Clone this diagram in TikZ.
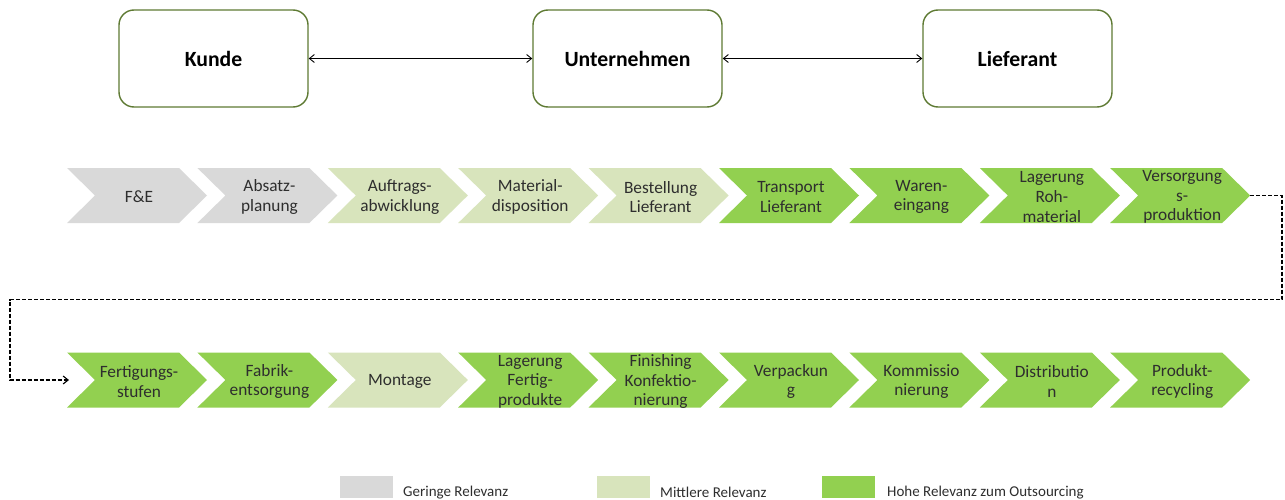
\documentclass[tikz,border=0pt]{standalone}
\usepackage{fontspec}
\setmainfont{Carlito}
\usetikzlibrary{arrows.meta}
\definecolor{lowrel}{HTML}{D9D9D9}
\definecolor{midrel}{HTML}{D8E4BC}
\definecolor{highrel}{HTML}{92D050}
\definecolor{boxline}{HTML}{5E7A33}
\definecolor{txt}{HTML}{2E2E2E}

% one process step: name, left x, centre y, fill colour, label
\newcommand{\procstep}[5]{%
  \fill[#4] (#2,#3-27.5) -- ++(112,0) -- ++(28,27.5) -- ++(-28,27.5)
    -- ++(-112,0) -- ++(28,-27.5) -- cycle;
  \node[steptext] (#1) at (#2+72,#3) {#5};
  \coordinate (#1-tip) at (#2+140,#3);
  \coordinate (#1-tail) at (#2+2,#3);
}

\begin{document}
\begin{tikzpicture}[x=1pt,y=-1pt,
  party/.style={draw=boxline,line width=1.4pt,rounded corners=15pt,
    minimum width=189pt,minimum height=97pt,inner sep=0pt,
    font=\fontsize{21.7}{26}\selectfont\bfseries},
  steptext/.style={align=center,text=txt,inner sep=0pt,yshift=-1.5pt,
    font=\fontsize{17.3}{19.6}\selectfont},
  link/.style={line width=0.9pt,{Straight Barb[length=5pt,width=8pt]}-{Straight Barb[length=5pt,width=8pt]}},
  flow/.style={line width=1.1pt,dash pattern=on 4pt off 2pt,-{Straight Barb[length=5pt,width=8pt]}},
  legbox/.style={minimum width=53pt,minimum height=22pt,inner sep=0pt},
  legtext/.style={anchor=west,text=txt,inner sep=0pt,font=\fontsize{15}{18}\selectfont}]

\useasboundingbox[fill=white] (0,0) rectangle (1285,500);

% actors
\node[party] (kunde) at (213.5,58.5) {Kunde};
\node[party] (untern) at (627.5,58.5) {Unternehmen};
\node[party] (liefer) at (1017.5,58.5) {Lieferant};
\draw[link] (kunde.east) -- (untern.west);
\draw[link] (untern.east) -- (liefer.west);

% first row of process steps
\procstep{s1}{67}{195.5}{lowrel}{F\&E}
\procstep{s2}{197.4}{195.5}{lowrel}{Absatz-\\planung}
\procstep{s3}{327.8}{195.5}{midrel}{Auftrags-\\abwicklung}
\procstep{s4}{458.2}{195.5}{midrel}{Material-\\disposition}
\procstep{s5}{588.6}{195.5}{midrel}{Bestellung\\Lieferant}
\procstep{s6}{719}{195.5}{highrel}{Transport\\Lieferant}
\procstep{s7}{849.4}{195.5}{highrel}{Waren-\\eingang}
\procstep{s8}{979.8}{195.5}{highrel}{Lagerung\\Roh-\\material}
\procstep{s9}{1110.2}{195.5}{highrel}{Versorgung\\s-\\produktion}

% second row of process steps
\procstep{t1}{67}{380}{highrel}{Fertigungs-\\stufen}
\procstep{t2}{197.4}{380}{highrel}{Fabrik-\\entsorgung}
\procstep{t3}{327.8}{380}{midrel}{Montage}
\procstep{t4}{458.2}{380}{highrel}{Lagerung\\Fertig-\\produkte}
\procstep{t5}{588.6}{380}{highrel}{Finishing\\Konfektio-\\nierung}
\procstep{t6}{719}{380}{highrel}{Verpackun\\g}
\procstep{t7}{849.4}{380}{highrel}{Kommissio\\nierung}
\procstep{t8}{979.8}{380}{highrel}{Distributio\\n}
\procstep{t9}{1110.2}{380}{highrel}{Produkt-\\recycling}

% wrap-around from the first row to the second
\coordinate (turnA) at (1282,195.5);
\coordinate (turnB) at (1282,299.5);
\coordinate (turnC) at (10,299.5);
\coordinate (turnD) at (10,380);
\draw[flow] (s9-tip) -- (turnA) -- (turnB) -- (turnC) -- (turnD) -- (t1-tail);

% legend
\node[legbox,fill=lowrel] (lg1) at (366.5,487) {};
\node[legtext] (lt1) at (403,492.5) {Geringe Relevanz};
\node[legbox,fill=midrel] (lg2) at (623.5,487) {};
\node[legtext] (lt2) at (660,492.5) {Mittlere Relevanz};
\node[legbox,fill=highrel] (lg3) at (848.5,487) {};
\node[legtext] (lt3) at (887,492.5) {Hohe Relevanz zum Outsourcing};
\end{tikzpicture}
\end{document}
